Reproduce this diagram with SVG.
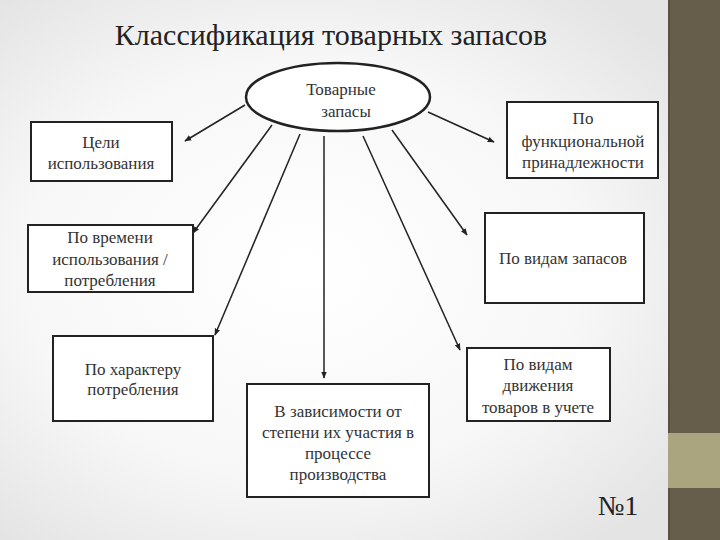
<svg xmlns="http://www.w3.org/2000/svg" width="720" height="540" viewBox="0 0 720 540">
<defs>
<radialGradient id="bg" cx="0.42" cy="0.5" r="0.65">
<stop offset="0" stop-color="#ffffff"/>
<stop offset="0.6" stop-color="#f7f7f7"/>
<stop offset="1" stop-color="#e4e4e4"/>
</radialGradient>
<marker id="arr" viewBox="0 0 10 10" refX="9" refY="5" markerWidth="7" markerHeight="7" orient="auto" markerUnits="userSpaceOnUse">
<path d="M0,1 L10,5 L0,9 Z" fill="#222"/>
</marker>
<style>
.box{fill:#fff;stroke:#222;stroke-width:2}
.serif{font-family:'Liberation Serif','DejaVu Serif','Times New Roman',serif}
.t{font-size:17px;fill:#333;text-anchor:middle}
.c{stroke:#222;stroke-width:1.5;fill:none;marker-end:url(#arr)}
</style>
</defs>
<rect width="720" height="540" fill="url(#bg)"/>
<rect x="668" y="0" width="52" height="540" fill="#665e4a"/>
<rect x="668" y="0" width="2" height="540" fill="#5a5240"/>
<rect x="668" y="433" width="52" height="55" fill="#aaa57f"/>
<text class="serif" x="331" y="45" font-size="30" fill="#222" text-anchor="middle">Классификация товарных запасов</text>
<g id="connectors">
<line class="c" x1="245" y1="105" x2="185" y2="141"/>
<line class="c" x1="272" y1="125" x2="193" y2="233"/>
<line class="c" x1="300" y1="134" x2="215" y2="335"/>
<line class="c" x1="324" y1="136" x2="324" y2="378"/>
<line class="c" x1="363" y1="136" x2="460" y2="350"/>
<line class="c" x1="392" y1="130" x2="467" y2="235"/>
<line class="c" x1="428" y1="112" x2="494" y2="142"/>
</g>
<g id="root" class="serif">
<ellipse cx="338" cy="97" rx="92" ry="34" fill="#fff" stroke="#222" stroke-width="2.5"/>
<text class="t" x="341" y="95">Товарные</text>
<text class="t" x="346" y="117">запасы</text>
</g>
<g id="n1" class="serif">
<rect class="box" x="31" y="122" width="141" height="59"/>
<text class="t" x="101" y="148">Цели</text>
<text class="t" x="101" y="169">использования</text>
</g>
<g id="n2" class="serif">
<rect class="box" x="28" y="225" width="165" height="67"/>
<text class="t" x="110" y="243">По времени</text>
<text class="t" x="110" y="265">использования /</text>
<text class="t" x="110" y="286">потребления</text>
</g>
<g id="n3" class="serif">
<rect class="box" x="53" y="336" width="160" height="85"/>
<text class="t" x="133" y="375">По характеру</text>
<text class="t" x="133" y="395">потребления</text>
</g>
<g id="n4" class="serif">
<rect class="box" x="247" y="384" width="182" height="113"/>
<text class="t" x="338" y="417">В зависимости от</text>
<text class="t" x="338" y="438">степени их участия в</text>
<text class="t" x="338" y="459">процессе</text>
<text class="t" x="338" y="480">производства</text>
</g>
<g id="n5" class="serif">
<rect class="box" x="507" y="102" width="151" height="76"/>
<text class="t" x="583" y="124">По</text>
<text class="t" x="583" y="147">функциональной</text>
<text class="t" x="583" y="168">принадлежности</text>
</g>
<g id="n6" class="serif">
<rect class="box" x="485" y="213" width="159" height="90"/>
<text class="t" x="563" y="264">По видам запасов</text>
</g>
<g id="n7" class="serif">
<rect class="box" x="467" y="348" width="143" height="73"/>
<text class="t" x="538" y="370">По видам</text>
<text class="t" x="538" y="391">движения</text>
<text class="t" x="538" y="413">товаров в учете</text>
</g>
<text class="serif" x="618" y="515" font-size="28" fill="#222" text-anchor="middle">№1</text>
</svg>
